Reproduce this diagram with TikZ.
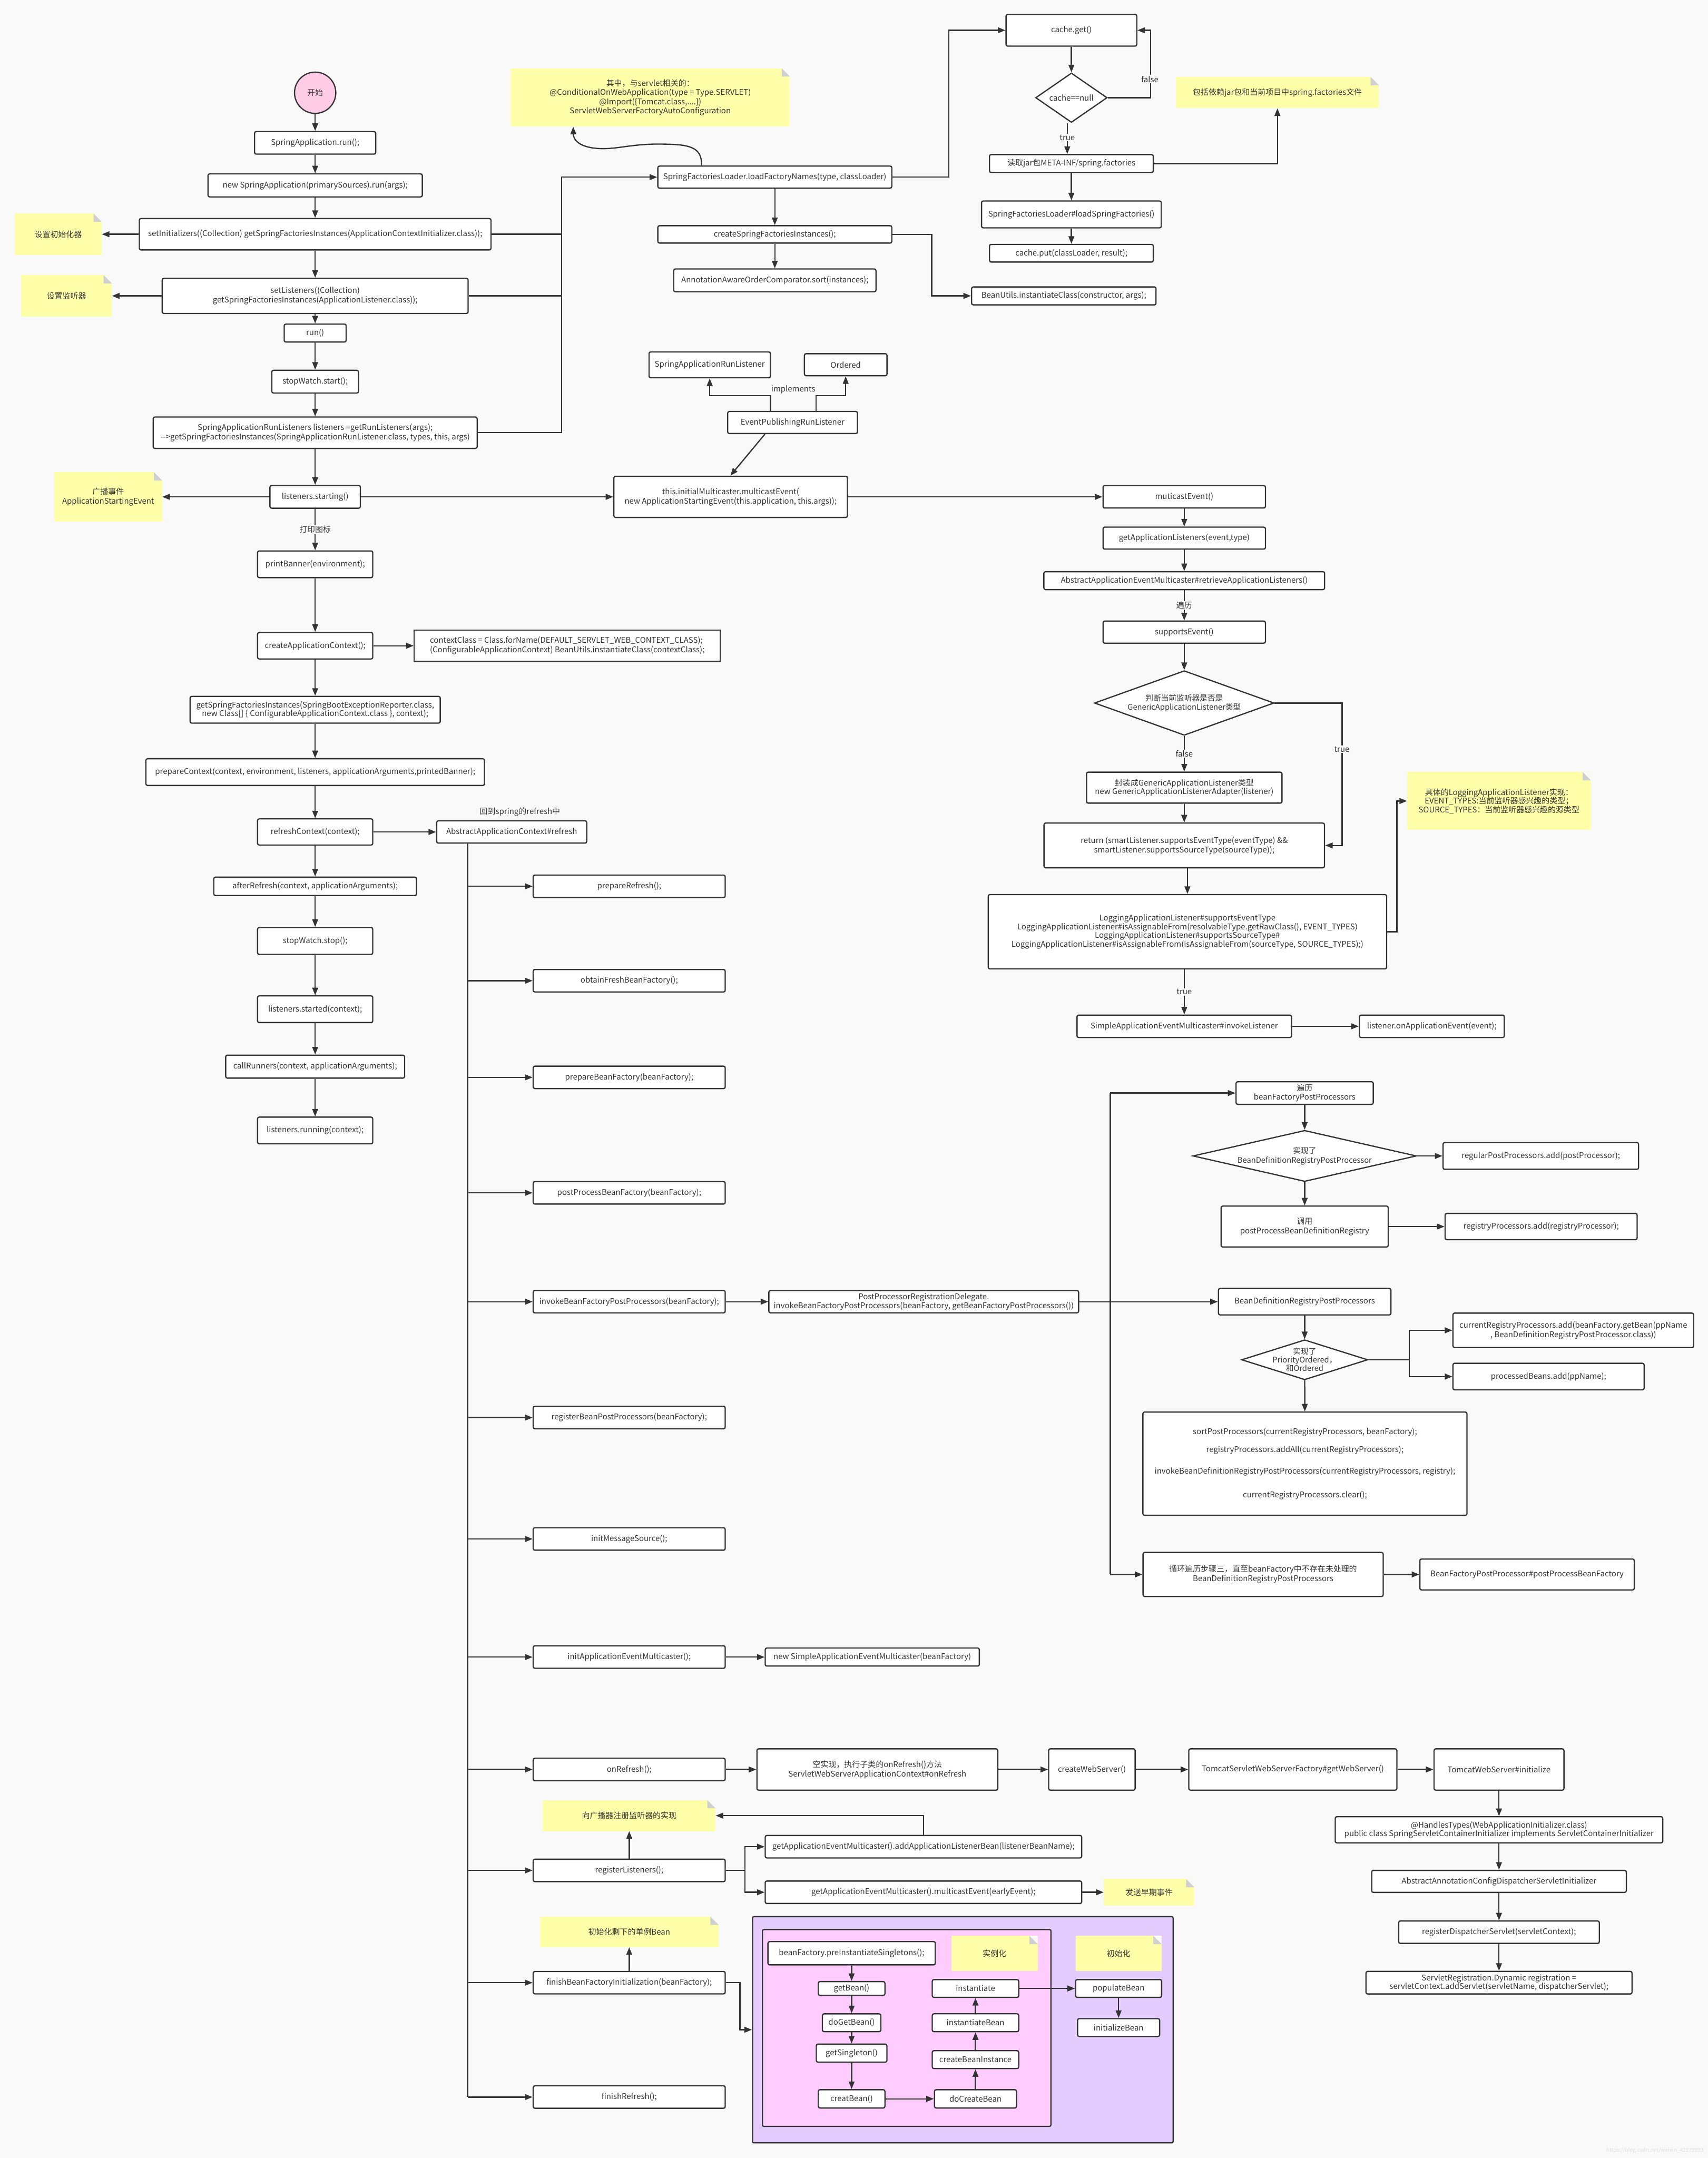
\documentclass[tikz,border=0pt]{standalone}
\usepackage{fontspec}
\setmainfont{Noto Sans CJK SC}
\usetikzlibrary{arrows.meta,shapes.geometric,calc}
\definecolor{bg}{RGB}{249,249,249}
\definecolor{lc}{RGB}{51,51,51}
\definecolor{noteY}{RGB}{255,255,170}
\definecolor{fold}{RGB}{208,208,208}
\definecolor{startpink}{RGB}{255,204,230}
\definecolor{purp}{RGB}{229,204,255}
\definecolor{pinkbox}{RGB}{255,204,255}
\newcommand\fs{\fontsize{16.3}{19.6}\selectfont}
\newcommand\fst{\fontsize{16.3}{18}\selectfont}
\newcommand\fsd{\fontsize{16}{19}\selectfont}
\begin{document}
\begin{tikzpicture}[x=1mm,y=-1mm,
 every node/.style={text=lc},
 box/.style={draw=lc, line width=0.9mm, rounded corners=1.2mm, fill=white, inner sep=0pt, align=center, font=\fs},
 sz/.style 2 args={minimum width=#1mm, minimum height=#2mm},
 dia/.style={diamond, draw=lc, line width=0.9mm, fill=white, inner sep=0pt},
 note/.style={fill=noteY, inner sep=0pt, align=center, font=\fs,
   path picture={\fill[bg] (path picture bounding box.north east) -- ++(-6mm,0mm) -- ++(6mm,-6mm) -- cycle;
     \fill[fold] ([xshift=-6mm]path picture bounding box.north east) -- ++(6mm,-6mm) -- ++(-6mm,0mm) -- cycle;}},
 line/.style={draw=lc, line width=0.9mm},
 arr/.style={line, -{Triangle[length=5.5mm,width=4.2mm]}},
 lab/.style={fill=bg, inner sep=0.6mm, font=\fs},
]
\path[use as bounding box, fill=bg] (0,0) rectangle (1241,1568);

% ---------------- left column ----------------
\node[circle, draw=lc, line width=0.9mm, fill=startpink, minimum size=30mm, inner sep=0pt, font=\fs] (start) at (229,67.4) {开始};
\node[box, sz={88}{16.4}] (run1) at (229,103.8) {SpringApplication.run();};
\node[box, sz={155.7}{16.7}] (newsa) at (229,134.7) {new SpringApplication(primarySources).run(args);};
\node[box, sz={255.5}{22.8}] (setinit) at (229,170.2) {setInitializers((Collection) getSpringFactoriesInstances(ApplicationContextInitializer.class));};
\node[box, sz={222.3}{25.5}] (setlis) at (229,215) {setListeners((Collection)\\getSpringFactoriesInstances(ApplicationListener.class));};
\node[box, sz={45}{13}] (runm) at (229,242) {run()};
\node[box, sz={63}{16.5}] (swstart) at (229,277.3) {stopWatch.start();};
\node[box, sz={235.4}{22.8}] (sarl) at (229,314.4) {SpringApplicationRunListeners listeners =getRunListeners(args);\\-{}->getSpringFactoriesInstances(SpringApplicationRunListener.class, types, this, args)};
\node[box, sz={65.7}{16.5}] (lstart) at (229,361) {listeners.starting()};
\node[box, sz={83.7}{19.4}] (pbanner) at (229,410) {printBanner(environment);};
\node[box, sz={83.7}{19.2}] (cac) at (229,469.2) {createApplicationContext();};
\node[box, sz={222.4}{22.8}, align=left, rounded corners=0pt] (ctxclass) at (412.2,469.2) {contextClass = Class.forName(DEFAULT\_SERVLET\_WEB\_CONTEXT\_CLASS);\\(ConfigurableApplicationContext) BeanUtils.instantiateClass(contextClass);};
\node[box, sz={181.8}{19.4}, font=\fst] (getsfi) at (229,515.7) {getSpringFactoriesInstances(SpringBootExceptionReporter.class,\\new Class[] \{ ConfigurableApplicationContext.class \}, context);};
\node[box, sz={246}{19.4}] (prepctx) at (229,561) {prepareContext(context, environment, listeners, applicationArguments,printedBanner);};
\node[box, sz={83.7}{19}] (refctx) at (229,604.5) {refreshContext(context);};
\node[box, sz={109}{16.2}] (aac) at (371.8,604.5) {AbstractApplicationContext\#refresh};
\node[font=\fs] (aaclab) at (377.8,590) {回到spring的refresh中};
\node[box, sz={147.3}{13.4}] (afterref) at (229,644) {afterRefresh(context, applicationArguments);};
\node[box, sz={83.7}{19.5}] (swstop) at (229,683.7) {stopWatch.stop();};
\node[box, sz={83.7}{19.4}] (lstarted) at (229,733.3) {listeners.started(context);};
\node[box, sz={130}{16.7}] (callr) at (229,775) {callRunners(context, applicationArguments);};
\node[box, sz={83.7}{19.4}] (lrunning) at (229,821.4) {listeners.running(context);};

\node[note, sz={63.3}{30}] (ninit) at (42.3,170.2) {设置初始化器};
\node[note, sz={66}{30}] (nlis) at (48.3,215) {设置监听器};
\node[note, sz={78.5}{35.7}] (nstart) at (78.6,361) {广播事件\\ApplicationStartingEvent};

\draw[arr] (start) -- (run1);
\draw[arr] (run1) -- (newsa);
\draw[arr] (newsa) -- (setinit);
\draw[arr] (setinit) -- (setlis);
\draw[arr] (setlis) -- (runm);
\draw[arr] (runm) -- (swstart);
\draw[arr] (swstart) -- (sarl);
\draw[arr] (sarl) -- (lstart);
\draw[arr] (lstart) -- node[lab]{打印图标} (pbanner);
\draw[arr] (pbanner) -- (cac);
\draw[arr] (cac) -- (getsfi);
\draw[arr] (getsfi) -- (prepctx);
\draw[arr] (prepctx) -- (refctx);
\draw[arr] (refctx) -- (afterref);
\draw[arr] (afterref) -- (swstop);
\draw[arr] (swstop) -- (lstarted);
\draw[arr] (lstarted) -- (callr);
\draw[arr] (callr) -- (lrunning);
\draw[arr] (setinit) -- (ninit);
\draw[arr] (setlis) -- (nlis);
\draw[arr] (lstart) -- (nstart);
\draw[arr] (cac) -- (ctxclass);
\draw[arr] (refctx) -- (aac);

% ---------------- spring factories ----------------
\node[note, sz={203}{42.4}, font=\fontsize{16.3}{19}\selectfont] (nserv) at (472.5,70.8) {其中，与servlet相关的：\\@ConditionalOnWebApplication(type = Type.SERVLET)\\@Import(\{Tomcat.class,....\})\\ServletWebServerFactoryAutoConfiguration};
\node[box, sz={170}{16}] (lfn) at (563,128.7) {SpringFactoriesLoader.loadFactoryNames(type, classLoader)};
\node[box, sz={170}{12.6}] (csfi) at (563,170.3) {createSpringFactoriesInstances();};
\node[box, sz={147}{16.5}] (aaoc) at (563,203.7) {AnnotationAwareOrderComparator.sort(instances);};
\node[box, sz={134}{13}] (beanutils) at (773,215) {BeanUtils.instantiateClass(constructor, args);};

\coordinate (busx) at (408,0);
\draw[line] (setinit.east) -- (setinit.east -| busx);
\draw[line] (setlis.east) -- (setlis.east -| busx);
\draw[arr] (sarl.east) -- (sarl.east -| busx) -- (busx |- lfn.west) -- (lfn.west);
\draw[arr] (lfn) -- (csfi);
\draw[arr] (csfi) -- (aaoc);
\draw[arr] (csfi.east) -- ++(28.6,0) |- (beanutils.west);
\draw[arr] ([xshift=32.2mm]lfn.north west) .. controls (510.2,106) and (500,104.7) .. (477.3,104.7) .. controls (460,104.7) and (448,108.3) .. (437,108) .. controls (420,107.5) and (416.6,101) .. ([xshift=45.6mm]nserv.south west);

\node[box, sz={95}{23}] (cget) at (778.5,22) {cache.get()};
\node[dia, minimum width=52mm, minimum height=36mm] (cnull) at (778.5,71) {};
\node[font=\fs] (cnullt) at (778.5,71) {cache==null};
\node[box, sz={119}{13}] (rjar) at (778.5,118.8) {读取jar包META-INF/spring.factories};
\node[note, sz={147.5}{22.7}] (njar) at (928.2,67.3) {包括依赖jar包和当前项目中spring.factories文件};
\node[box, sz={130.6}{19.5}] (lsf) at (778.5,155.8) {SpringFactoriesLoader\#loadSpringFactories()};
\node[box, sz={119}{12.8}] (cput) at (778.5,184) {cache.put(classLoader, result);};

\draw[arr] (lfn.east) -- ++(41,0) |- (cget.west);
\draw[arr] (cget) -- (cnull);
\draw[arr] (cnull.east) -- ++(31,0) |- (cget.east);
\node[lab] (lfalse1) at (835.5,57.5) {false};
\draw[arr] ([xshift=-3mm]cnull.south) -- ([xshift=-3mm]rjar.north);
\node[lab] (ltrue1) at (775.5,100) {true};
\draw[arr] (rjar.east) -| (njar.south);
\draw[arr] (rjar) -- (lsf);
\draw[arr] (lsf) -- (cput);

% ---------------- run listener ----------------
\node[box, sz={88.2}{18.8}] (sarlis) at (515.7,265.1) {SpringApplicationRunListener};
\node[box, sz={60}{16}] (ordered) at (614.5,265) {Ordered};
\node[box, sz={94.3}{16}] (epr) at (575.9,307) {EventPublishingRunListener};
\coordinate (i1) at (559.8,287.6);
\coordinate (i2) at (593,287.6);
\draw[arr] (epr.north -| i1) -- (i1) -| (sarlis.south);
\draw[arr] (epr.north -| i2) -- (i2) -| (ordered.south);
\node[font=\fs] (impl) at (576.4,283) {implements};
\node[box, sz={169.7}{29.9}] (mce) at (530.9,361) {this.initialMulticaster.multicastEvent(\\new ApplicationStartingEvent(this.application, this.args));};
\draw[arr] ([xshift=-20.1mm]epr.south) -- ([xshift=-0.2mm]mce.north);
\draw[arr] (lstart) -- (mce);

% ---------------- multicast ----------------
\node[box, sz={118}{16.3}] (mue) at (860.5,361) {muticastEvent()};
\node[box, sz={118}{16}] (gal) at (860.5,391) {getApplicationListeners(event,type)};
\node[box, sz={204}{13}] (aaem) at (860.5,421.9) {AbstractApplicationEventMulticaster\#retrieveApplicationListeners()};
\node[box, sz={118}{16}] (supe) at (860.5,459.3) {supportsEvent()};
\node[dia, minimum width=130.5mm, minimum height=47mm] (gen) at (860.5,510.8) {};
\node[font=\fsd, align=center] (gent) at (860.5,510.8) {判断当前监听器是否是\\GenericApplicationListener类型};
\node[box, sz={142}{22.5}, font=\fst] (wrap) at (860.5,572.3) {封装成GenericApplicationListener类型\\new GenericApplicationListenerAdapter(listener)};
\node[box, sz={203.8}{32.5}] (ret) at (860.5,614.3) {return (smartListener.supportsEventType(eventType) \&\&\\smartListener.supportsSourceType(sourceType));};
\node[box, sz={289.5}{54}, font=\fst] (logg) at (862.8,677) {LoggingApplicationListener\#supportsEventType\\LoggingApplicationListener\#isAssignableFrom(resolvableType.getRawClass(), EVENT\_TYPES)\\LoggingApplicationListener\#supportsSourceType\#\\LoggingApplicationListener\#isAssignableFrom(isAssignableFrom(sourceType, SOURCE\_TYPES);)};
\node[note, sz={133.5}{42}, font=\fst] (nlog) at (1089.2,582) {具体的LoggingApplicationListener实现：\\EVENT\_TYPES:当前监听器感兴趣的类型；\\SOURCE\_TYPES：当前监听器感兴趣的源类型};
\node[box, sz={155.8}{16.3}] (invoke) at (860.5,745.7) {SimpleApplicationEventMulticaster\#invokeListener};
\node[box, sz={105.3}{16.3}] (onapp) at (1040.4,745.7) {listener.onApplicationEvent(event);};

\draw[arr] (mce) -- (mue);
\draw[arr] (mue) -- (gal);
\draw[arr] (gal) -- (aaem);
\draw[arr] (aaem) -- node[lab]{遍历} (supe);
\draw[arr] (supe) -- (gen);
\draw[arr] (gen) -- node[lab]{false} (wrap);
\draw[arr] (gen.east) -- ++(49,0) |- (ret.east);
\node[lab] (ltrue2) at (975,544.4) {true};
\draw[arr] (wrap) -- (ret);
\draw[arr] (ret.south -| logg.north) -- (logg.north);
\draw[arr] (logg.south -| invoke.north) -- node[lab]{true} (invoke.north);
\draw[arr] (logg.east) -- ++(7,0) |- (nlog.west);
\draw[arr] (invoke) -- (onapp);

% ---------------- refresh ----------------
\node[box, sz={139.5}{16.3}] (r1) at (457.2,644) {prepareRefresh();};
\node[box, sz={139.5}{16.3}] (r2) at (457.2,712.6) {obtainFreshBeanFactory();};
\node[box, sz={139.5}{16.3}] (r3) at (457.2,782.8) {prepareBeanFactory(beanFactory);};
\node[box, sz={139.5}{16.3}] (r4) at (457.2,866.7) {postProcessBeanFactory(beanFactory);};
\node[box, sz={139.5}{16.3}] (r5) at (457.2,945.8) {invokeBeanFactoryPostProcessors(beanFactory);};
\node[box, sz={139.5}{16.3}] (r6) at (457.2,1030) {registerBeanPostProcessors(beanFactory);};
\node[box, sz={139.5}{16.3}] (r7) at (457.2,1118.2) {initMessageSource();};
\node[box, sz={139.5}{16.3}] (r8) at (457.2,1204) {initApplicationEventMulticaster();};
\node[box, sz={139.5}{16.3}] (r9) at (457.2,1285.7) {onRefresh();};
\node[box, sz={139.5}{16.3}] (r10) at (457.2,1359) {registerListeners();};
\node[box, sz={139.5}{16.3}] (r11) at (457.2,1440.6) {finishBeanFactoryInitialization(beanFactory);};
\node[box, sz={139.5}{16.3}] (r12) at (457.2,1523.7) {finishRefresh();};
\coordinate (rbx) at (339.8,0);
\draw[line] (aac.south -| rbx) -- (rbx |- r12.west);
\foreach \i in {1,...,12} {\draw[arr] (rbx |- r\i.west) -- (r\i.west);}

% ---------------- invokeBeanFactoryPostProcessors ----------------
\node[box, sz={225.1}{16.2}, font=\fst] (pprd) at (671.2,945.8) {PostProcessorRegistrationDelegate.\\invokeBeanFactoryPostProcessors(beanFactory, getBeanFactoryPostProcessors())};
\node[box, sz={99.7}{16.4}, font=\fst] (bianli) at (948,794.2) {遍历\\beanFactoryPostProcessors};
\node[dia, minimum width=162.4mm, minimum height=37.2mm] (d1) at (948,839.9) {};
\node[font=\fsd, align=center] (d1t) at (948,839.9) {实现了\\BeanDefinitionRegistryPostProcessor};
\node[box, sz={142.1}{19.4}] (regular) at (1119.6,839.9) {regularPostProcessors.add(postProcessor);};
\node[box, sz={121.4}{29.7}] (call) at (948,891.2) {调用\\postProcessBeanDefinitionRegistry};
\node[box, sz={139.5}{19.1}] (regproc) at (1119.8,891.2) {registryProcessors.add(registryProcessor);};
\node[box, sz={125.3}{19.2}] (bdrpp) at (948,945.8) {BeanDefinitionRegistryPostProcessors};
\node[dia, minimum width=91.7mm, minimum height=29.1mm] (d2) at (948,988) {};
\node[font=\fontsize{16}{17.5}\selectfont, align=center] (d2t) at (948,988) {实现了\\PriorityOrdered，\\和Ordered};
\node[box, sz={174.9}{25}] (currreg) at (1143.2,966.6) {currentRegistryProcessors.add(beanFactory.getBean(ppName\\, BeanDefinitionRegistryPostProcessor.class))};
\node[box, sz={138.9}{19.3}] (procb) at (1125.2,1000.2) {processedBeans.add(ppName);};
\node[box, sz={235.5}{75}] (sortb) at (948.2,1063.5) {sortPostProcessors(currentRegistryProcessors, beanFactory);\\[6mm]registryProcessors.addAll(currentRegistryProcessors);\\[8.8mm]invokeBeanDefinitionRegistryPostProcessors(currentRegistryProcessors, registry);\\[10.5mm]currentRegistryProcessors.clear();};
\node[box, sz={174.5}{32}] (xunh) at (917.8,1144) {循环遍历步骤三，直至beanFactory中不存在未处理的\\BeanDefinitionRegistryPostProcessors};
\node[box, sz={155.8}{22.4}] (bfpppost) at (1109.6,1144) {BeanFactoryPostProcessor\#postProcessBeanFactory};

\draw[arr] (r5) -- (pprd);
\draw[arr] (pprd) -- (bdrpp);
\coordinate (vx) at (806.7,0);
\draw[line] (vx |- bianli.west) -- (vx |- xunh.west);
\draw[arr] (vx |- bianli.west) -- (bianli.west);
\draw[arr] (vx |- xunh.west) -- (xunh.west);
\draw[arr] (bianli) -- (d1);
\draw[arr] (d1.east) -- (regular.west);
\draw[arr] (d1) -- (call);
\draw[arr] (call) -- (regproc);
\draw[arr] (bdrpp) -- (d2);
\draw[arr] (d2) -- (sortb);
\coordinate (jx) at (1024,0);
\draw[line] (d2.east) -- (jx |- d2.east);
\draw[arr] (jx |- d2.east) |- (currreg.west);
\draw[arr] (jx |- d2.east) |- (procb.west);
\draw[arr] (xunh) -- (bfpppost);

% ---------------- multicaster / onRefresh ----------------
\node[box, sz={155.6}{13.1}] (newsaem) at (633.8,1204) {new SimpleApplicationEventMulticaster(beanFactory)};
\draw[arr] (r8) -- (newsaem);
\node[box, sz={175}{30}] (kong) at (637.5,1285.7) {空实现，执行子类的onRefresh()方法\\ServletWebServerApplicationContext\#onRefresh};
\node[box, sz={62.8}{30}] (cws) at (793.4,1285.7) {createWebServer()};
\node[box, sz={151.2}{30}] (tsf) at (939.4,1285.7) {TomcatServletWebServerFactory\#getWebServer()};
\node[box, sz={94.4}{30}] (twi) at (1089.2,1285.7) {TomcatWebServer\#initialize};
\node[box, sz={238}{19}, font=\fst] (handles) at (1089.2,1329.5) {@HandlesTypes(WebApplicationInitializer.class)\\public class SpringServletContainerInitializer implements ServletContainerInitializer};
\node[box, sz={185}{16}] (aacdsi) at (1089.2,1367) {AbstractAnnotationConfigDispatcherServletInitializer};
\node[box, sz={145.8}{16.3}] (regds) at (1089.2,1403.9) {registerDispatcherServlet(servletContext);};
\node[box, sz={193.3}{16.4}, font=\fst] (sreg) at (1089.2,1440.6) {ServletRegistration.Dynamic registration =\\servletContext.addServlet(servletName, dispatcherServlet);};
\draw[arr] (r9) -- (kong);
\draw[arr] (kong) -- (cws);
\draw[arr] (cws) -- (tsf);
\draw[arr] (tsf) -- (twi);
\draw[arr] (twi) -- (handles);
\draw[arr] (handles) -- (aacdsi);
\draw[arr] (aacdsi) -- (regds);
\draw[arr] (regds) -- (sreg);

% ---------------- registerListeners ----------------
\node[note, sz={125.5}{22.5}] (nreg) at (457.2,1319.2) {向广播器注册监听器的实现};
\node[box, sz={230}{16.3}] (addapp) at (671,1341.8) {getApplicationEventMulticaster().addApplicationListenerBean(listenerBeanName);};
\node[box, sz={230}{16.3}] (mcearly) at (671,1374.9) {getApplicationEventMulticaster().multicastEvent(earlyEvent);};
\node[note, sz={65.8}{19.3}] (nearly) at (834.9,1374.9) {发送早期事件};
\draw[arr] (r10) -- (nreg);
\draw[arr] (addapp.north) |- (nreg.east);
\coordinate (sx) at (541.3,0);
\draw[line] (r10.east) -- (sx |- r10.east);
\draw[arr] (sx |- r10.east) |- (addapp.west);
\draw[arr] (sx |- r10.east) |- (mcearly.west);
\draw[arr] (mcearly) -- (nearly);

% ---------------- finishBeanFactoryInitialization ----------------
\node[note, sz={130}{22.2}] (nsingle) at (457.2,1403.7) {初始化剩下的单例Bean};
\draw[arr] (r11) -- (nsingle);
\node[draw=lc, line width=0.9mm, fill=purp, rounded corners=1mm, minimum width=305.6mm, minimum height=164.4mm, inner sep=0pt] (purple) at (699.6,1474.8) {};
\node[draw=lc, line width=0.9mm, fill=pinkbox, rounded corners=1mm, minimum width=209.6mm, minimum height=143mm, inner sep=0pt] (pinkb) at (658.8,1473.5) {};
\draw[arr] (r11.east) -- ++(10.3,0) |- (purple.west);

\node[box, sz={121.6}{16.9}] (pre) at (618.8,1419.2) {beanFactory.preInstantiateSingletons();};
\node[note, sz={62.6}{25.4}] (ninst) at (722.7,1419.3) {实例化};
\node[note, sz={62.5}{25.4}] (ninit2) at (812.8,1419.3) {初始化};
\node[box, sz={48.4}{10}] (getbean) at (618.8,1444.8) {getBean()};
\node[box, sz={42.5}{12.9}] (dogetbean) at (618.8,1469.7) {doGetBean()};
\node[box, sz={51.3}{13.1}] (getsing) at (618.8,1491.8) {getSingleton()};
\node[box, sz={48.4}{13.3}] (creatbean) at (618.8,1525) {creatBean()};
\node[box, sz={59.6}{13.3}] (docreate) at (708.8,1525) {doCreateBean};
\node[box, sz={62.8}{13}] (cbi) at (708.8,1496.5) {createBeanInstance};
\node[box, sz={62.8}{13}] (ib) at (708.8,1469.7) {instantiateBean};
\node[box, sz={62.8}{12.9}] (inst) at (708.8,1444.8) {instantiate};
\node[box, sz={62.5}{12.9}] (pop) at (812.8,1444.8) {populateBean};
\node[box, sz={59.6}{13}] (initb) at (812.8,1473.2) {initializeBean};
\draw[arr] (pre) -- (getbean);
\draw[arr] (getbean) -- (dogetbean);
\draw[arr] (dogetbean) -- (getsing);
\draw[arr] (getsing) -- (creatbean);
\draw[arr] (creatbean) -- (docreate);
\draw[arr] (docreate) -- (cbi);
\draw[arr] (cbi) -- (ib);
\draw[arr] (ib) -- (inst);
\draw[arr] (inst) -- (pop);
\draw[arr] (pop) -- (initb);

\node[text=black!12, font=\fontsize{11}{12}\selectfont, anchor=east] (wm) at (1239,1562.6) {https://blog.csdn.net/weixin\_42979993};
\end{tikzpicture}
\end{document}
